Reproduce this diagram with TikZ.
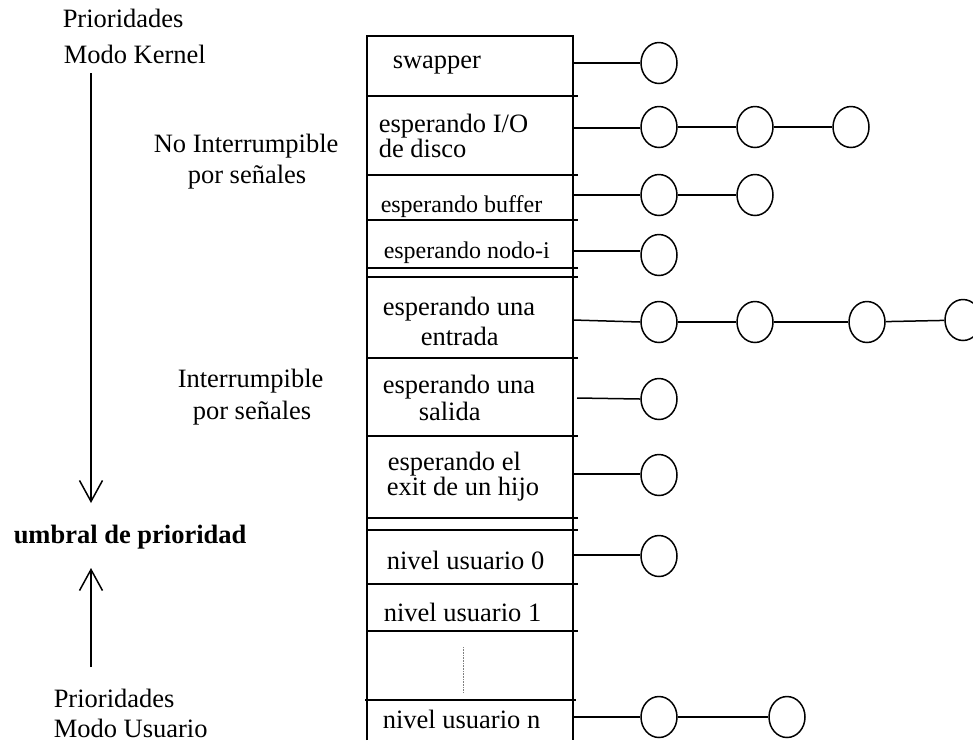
\documentclass[tikz,border=0pt]{standalone}
\usepackage{fontspec}
\setmainfont{Liberation Serif}
\usetikzlibrary{shapes.geometric,arrows.meta}
\begin{document}
\begin{tikzpicture}[x=1pt,y=-1pt,line width=1.5pt,
  txt/.style={anchor=base west,inner sep=0pt,font=\fontsize{26.5}{26}\selectfont},
  smalltxt/.style={anchor=base west,inner sep=0pt,font=\fontsize{24}{26}\selectfont},
  proc/.style={draw,ellipse,inner sep=0pt,minimum width=36pt,minimum height=41pt},
  rowline/.style={line width=1.5pt},
  prio/.style={line width=1.5pt,-{Straight Barb[length=21pt,width=23pt]}}]
\useasboundingbox (0,0) rectangle (973,740);

% --- left labels and priority arrows
\node[txt] (pk1) at (62,27) {Prioridades};
\node[txt] (pk2) at (63,63) {Modo Kernel};
\node[txt] (ni1) at (153,152) {No Interrumpible};
\node[txt] (ni2) at (187,183) {por señales};
\node[txt] (ir1) at (177,387) {Interrumpible};
\node[txt] (ir2) at (192,419) {por señales};
\node[txt,font=\fontsize{26.5}{26}\selectfont\bfseries] (umb) at (13,543) {umbral de prioridad};
\node[txt] (pu1) at (53,707) {Prioridades};
\node[txt] (pu2) at (53,737) {Modo Usuario};

\coordinate (dtop) at (91,73);
\coordinate (dtip) at (91,503);
\coordinate (ubot) at (91,667);
\coordinate (utip) at (91,568);
\draw[prio] (dtop) -- (dtip);
\draw[prio] (ubot) -- (utip);

% --- priority table
\draw (367,740) -- (367,36) -- (573,36) -- (573,740);
\foreach \yy in {96,175,220,268,277,358,436,518,530,584,631}
  \draw[rowline] (367,\yy) -- (578,\yy);
\draw[rowline] (365,700) -- (576,700);
\draw[gray,line width=0.6pt,densely dotted] (463,647) -- (463,692);

\node[txt] (r1) at (392,68) {swapper};
\node[txt] (r2a) at (378,132) {esperando I/O};
\node[txt] (r2b) at (378,157) {de disco};
\node[smalltxt] (r3) at (380,212) {esperando buffer};
\node[smalltxt] (r4) at (383,258) {esperando nodo-i};
\node[txt] (r5a) at (382,315) {esperando una};
\node[txt] (r5b) at (420,345) {entrada};
\node[txt] (r6a) at (382,393) {esperando una};
\node[txt] (r6b) at (418,420) {salida};
\node[txt] (r7a) at (387,470) {esperando el};
\node[txt] (r7b) at (386,495) {exit de un hijo};
\node[txt] (r8) at (386,569) {nivel usuario 0};
\node[txt] (r9) at (383,621) {nivel usuario 1};
\node[txt] (r10) at (382,728) {nivel usuario n};

% --- sleeping process queues
\node[proc] (c11) at (659,63) {};
\node[proc] (c21) at (659,127) {};
\node[proc] (c22) at (755,127) {};
\node[proc] (c23) at (851,127) {};
\node[proc] (c31) at (659,195) {};
\node[proc] (c32) at (755,195) {};
\node[proc] (c41) at (659,255) {};
\node[proc] (c51) at (659,322) {};
\node[proc] (c52) at (755,322) {};
\node[proc] (c53) at (867,322) {};
\node[proc] (c54) at (963,320) {};
\node[proc] (c61) at (659,399) {};
\node[proc] (c71) at (659,475) {};
\node[proc] (c81) at (659,556) {};
\node[proc] (c91) at (659,717) {};
\node[proc] (c92) at (787,717) {};

\coordinate (h1) at (573,63);
\coordinate (h2) at (573,128);
\coordinate (h3) at (573,195);
\coordinate (h4) at (573,251);
\coordinate (h5) at (573,320);
\coordinate (h6) at (577,398);
\coordinate (h7) at (573,474);
\coordinate (h8) at (573,555);
\coordinate (h9) at (573,717);

\draw (h1) -- (h1 -| c11.west);
\draw (h2) -- (h2 -| c21.west);
\draw (c21) -- (c22);
\draw (c22) -- (c23);
\draw (h3) -- (h3 -| c31.west);
\draw (c31) -- (c32);
\draw (h4) -- (h4 -| c41.west);
\draw (h5) -- (c51.west);
\draw (c51) -- (c52);
\draw (c52) -- (c53);
\draw (c53) -- (c54);
\draw (h6) -- (c61.west);
\draw (h7) -- (h7 -| c71.west);
\draw (h8) -- (h8 -| c81.west);
\draw (h9) -- (h9 -| c91.west);
\draw (c91) -- (c92);
\end{tikzpicture}
\end{document}
